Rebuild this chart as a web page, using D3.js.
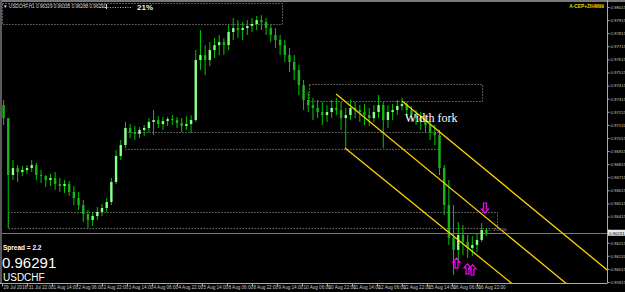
<!DOCTYPE html>
<html>
<head>
<meta charset="utf-8">
<script src="https://cdn.jsdelivr.net/npm/d3@7"></script>
<style>
  body { margin: 0; background: #000; overflow: hidden; }
  svg { display: block; }
</style>
</head>
<body>
<script>
// USDCHF H1 - every candle here stands for 3 hourly bars
const firstOpen = 0.97266;
const closes = [
  0.97167, 0.96732, 0.96785, 0.96755, 0.96770, 0.96785, 0.96808, 0.96732, 0.96724, 0.96694,
  0.96709, 0.96663, 0.96648, 0.96663, 0.96602, 0.96556, 0.96503, 0.96434, 0.96389, 0.96419,
  0.96450, 0.96480, 0.96526, 0.96679, 0.96877, 0.96961, 0.97091, 0.97060, 0.97045, 0.97076,
  0.97091, 0.97137, 0.97152, 0.97121, 0.97144, 0.97160, 0.97152, 0.97129, 0.97106, 0.97121,
  0.97152, 0.97610, 0.97648, 0.97610, 0.97686, 0.97724, 0.97747, 0.97724, 0.97824, 0.97854,
  0.97839, 0.97854, 0.97870, 0.97885, 0.97915, 0.97900, 0.97854, 0.97801, 0.97763, 0.97724,
  0.97648, 0.97595, 0.97534, 0.97419, 0.97305, 0.97266, 0.97244, 0.97213, 0.97190, 0.97213,
  0.97244, 0.97228, 0.97167, 0.97190, 0.97244, 0.97228, 0.97213, 0.97190, 0.97167, 0.97213,
  0.97266, 0.97152, 0.97213, 0.97228, 0.97259, 0.97274, 0.97228, 0.97190, 0.97167, 0.97137,
  0.97114, 0.97060, 0.97037, 0.96785, 0.96503, 0.96251, 0.96160, 0.96274, 0.96221, 0.96175,
  0.96198, 0.96236, 0.96312, 0.96291
];
const highs = [
  0.97305, 0.97076, 0.96847, 0.96808, 0.96801, 0.96808, 0.96847, 0.96824, 0.96770, 0.96732,
  0.96740, 0.96755, 0.96709, 0.96694, 0.96686, 0.96648, 0.96602, 0.96541, 0.96465, 0.96450,
  0.96488, 0.96511, 0.96556, 0.96709, 0.96923, 0.96999, 0.97137, 0.97121, 0.97106, 0.97098,
  0.97114, 0.97167, 0.97228, 0.97182, 0.97175, 0.97175, 0.97190, 0.97175, 0.97167, 0.97182,
  0.97190, 0.97686, 0.97839, 0.97724, 0.97747, 0.97778, 0.97801, 0.97778, 0.97877, 0.97931,
  0.97915, 0.97900, 0.97915, 0.97931, 0.97946, 0.97953, 0.97931, 0.97877, 0.97854, 0.97801,
  0.97763, 0.97702, 0.97648, 0.97572, 0.97457, 0.97366, 0.97320, 0.97305, 0.97289, 0.97266,
  0.97305, 0.97320, 0.97289, 0.97244, 0.97305, 0.97289, 0.97266, 0.97274, 0.97244, 0.97266,
  0.97343, 0.97289, 0.97266, 0.97274, 0.97305, 0.97320, 0.97289, 0.97259, 0.97228, 0.97213,
  0.97190, 0.97137, 0.97114, 0.97076, 0.96808, 0.96694, 0.96503, 0.96373, 0.96350, 0.96274,
  0.96266, 0.96282, 0.96366, 0.96327
];
const lows = [
  0.97114, 0.96327, 0.96694, 0.96679, 0.96724, 0.96740, 0.96755, 0.96694, 0.96671, 0.96640,
  0.96648, 0.96618, 0.96602, 0.96595, 0.96572, 0.96503, 0.96465, 0.96373, 0.96327, 0.96343,
  0.96389, 0.96419, 0.96450, 0.96503, 0.96663, 0.96847, 0.96938, 0.97015, 0.96999, 0.97015,
  0.97030, 0.97060, 0.97037, 0.97091, 0.97076, 0.97106, 0.97114, 0.97091, 0.97060, 0.97076,
  0.97053, 0.97137, 0.97534, 0.97495, 0.97564, 0.97625, 0.97648, 0.97648, 0.97686, 0.97763,
  0.97778, 0.97763, 0.97801, 0.97824, 0.97839, 0.97839, 0.97801, 0.97747, 0.97702, 0.97648,
  0.97595, 0.97518, 0.97457, 0.97343, 0.97228, 0.97213, 0.97152, 0.97167, 0.97114, 0.97137,
  0.97167, 0.97190, 0.97076, 0.96938, 0.97152, 0.97167, 0.97137, 0.97114, 0.97106, 0.97137,
  0.97167, 0.96938, 0.97091, 0.97152, 0.97190, 0.97228, 0.97167, 0.97137, 0.97114, 0.97076,
  0.97060, 0.96999, 0.96961, 0.96732, 0.96427, 0.96198, 0.95969, 0.96068, 0.96121, 0.96098,
  0.96114, 0.96144, 0.96221, 0.96266
];
const timeLabels = [
  '29 Jul 2016', '31 Jul 22:00', '1 Aug 14:00', '2 Aug 06:00', '2 Aug 22:00',
  '3 Aug 14:00', '4 Aug 06:00', '4 Aug 22:00', '5 Aug 14:00', '8 Aug 06:00',
  '8 Aug 22:00', '9 Aug 14:00', '10 Aug 06:00', '10 Aug 22:00', '11 Aug 14:00',
  '12 Aug 06:00', '12 Aug 22:00', '15 Aug 14:00', '16 Aug 06:00', '16 Aug 22:00'
];
const priceTicks = [
  0.98015, 0.97915, 0.97815, 0.97715, 0.97615, 0.97515, 0.97415, 0.97315, 0.97215, 0.97115, 0.97015,
  0.96915, 0.96815, 0.96715, 0.96615, 0.96515, 0.96415, 0.96315, 0.96215, 0.96115, 0.96015, 0.95915
];
const lastPrice = 0.96291;
// pitchfork prongs: [bar, price] start and a second point on the ray
const forkStarts = [[256, 0.97297], [213.8, 0.97350], [219.5, 0.96938]];
const forkPoints = [[325.1, 0.96618], [318.7, 0.96320], [267.5, 0.96473]];
// dotted level boxes: bar from, bar to, price top, price bottom
const boxFrom = [0, 196.5, 78.7, 3.8];
const boxTo = [179.2, 307.2, 280, 316.8];
const boxTop = [0.98045, 0.97427, 0.97060, 0.96450];
const boxBottom = [0.97885, 0.97297, 0.96931, 0.96327];
// arrows: bar, price at tip
const downArrows = [[309.1, 0.96442]];
const upArrows = [[290.9, 0.96098], [297.9, 0.96053], [301.1, 0.96045]];

const w = 625;
const h = 292;
const plotRight = 607;
const plotBottom = 283;

const svg = d3.select('body')
              .append('svg')
              .attr('width', w)
              .attr('height', h)
              .style('background', '#000');

const xScale = d3.scaleLinear()
                 .domain([0, 387.2])
                 .range([2, plotRight]);

const yScale = d3.scaleLinear()
                 .domain([0.95915, 0.98015])
                 .range([282, 7]);

svg.append('clipPath')
   .attr('id', 'plot')
   .append('rect')
   .attr('x', 0).attr('y', 0)
   .attr('width', plotRight).attr('height', plotBottom);

const plot = svg.append('g').attr('clip-path', 'url(#plot)');

// window frame
svg.append('rect').attr('x', 0).attr('y', 0).attr('width', w).attr('height', 2).attr('fill', '#7a7a7a');
svg.append('rect').attr('x', 0).attr('y', 0).attr('width', 2).attr('height', plotBottom).attr('fill', '#5a5a5a');

// dotted boxes
const boxes = boxFrom.map((f, i) => ({ f: f, t: boxTo[i], top: boxTop[i], bot: boxBottom[i] }));
plot.selectAll('rect.box')
    .data(boxes)
    .enter()
    .append('rect')
    .attr('class', 'box')
    .attr('x', d => xScale(d.f) + 0.5)
    .attr('y', d => Math.round(yScale(d.top)) + 0.5)
    .attr('width', d => xScale(d.t) - xScale(d.f))
    .attr('height', d => yScale(d.bot) - yScale(d.top))
    .attr('fill', 'none')
    .attr('stroke', '#b0b0b0')
    .attr('stroke-dasharray', '1,2');

// bid line
plot.append('line')
    .attr('x1', 0).attr('x2', plotRight)
    .attr('y1', Math.round(yScale(lastPrice)) + 0.5)
    .attr('y2', Math.round(yScale(lastPrice)) + 0.5)
    .attr('stroke', '#777');

// candles
const candles = closes.map((c, k) => ({
  bar: 3 * k + 1,
  o: k === 0 ? firstOpen : closes[k - 1],
  c: c, hi: highs[k], lo: lows[k]
}));

plot.selectAll('line.wick')
    .data(candles)
    .enter()
    .append('line')
    .attr('class', 'wick')
    .attr('x1', d => xScale(d.bar)).attr('x2', d => xScale(d.bar))
    .attr('y1', d => yScale(d.hi)).attr('y2', d => yScale(d.lo))
    .attr('stroke', '#00c800')
    .attr('stroke-width', 1);

plot.selectAll('rect.body')
    .data(candles)
    .enter()
    .append('rect')
    .attr('class', 'body')
    .attr('x', d => xScale(d.bar) - 1.2)
    .attr('width', 2.4)
    .attr('y', d => yScale(Math.max(d.o, d.c)))
    .attr('height', d => Math.max(1, Math.abs(yScale(d.o) - yScale(d.c))))
    .attr('fill', d => d.c >= d.o ? '#8cff8c' : '#18b418');

// pitchfork
const forkLines = forkStarts.map((s, i) => {
  const p = forkPoints[i];
  const slope = (p[1] - s[1]) / (p[0] - s[0]);
  return { x1: s[0], y1: s[1], x2: 420, y2: s[1] + slope * (420 - s[0]) };
});
plot.selectAll('line.fork')
    .data(forkLines)
    .enter()
    .append('line')
    .attr('class', 'fork')
    .attr('x1', d => xScale(d.x1)).attr('y1', d => yScale(d.y1))
    .attr('x2', d => xScale(d.x2)).attr('y2', d => yScale(d.y2))
    .attr('stroke', '#ffd200')
    .attr('stroke-width', 1.3);

plot.append('text')
    .attr('x', 405).attr('y', 122)
    .attr('fill', '#fff')
    .style('font-family', '"Liberation Serif", serif')
    .style('font-size', '12px')
    .text('Width fork');

// arrows
const upPath = 'M0,0 L3.5,4 L1.5,4 L1.5,10 L-1.5,10 L-1.5,4 L-3.5,4 Z';
const downPath = 'M0,0 L3.5,-4 L1.5,-4 L1.5,-10 L-1.5,-10 L-1.5,-4 L-3.5,-4 Z';
plot.selectAll('path.up')
    .data(upArrows)
    .enter()
    .append('path')
    .attr('class', 'up')
    .attr('d', upPath)
    .attr('transform', d => 'translate(' + xScale(d[0]) + ',' + yScale(d[1]) + ')')
    .attr('fill', 'none').attr('stroke', '#ff00ff').attr('stroke-width', 1.2);
plot.selectAll('path.down')
    .data(downArrows)
    .enter()
    .append('path')
    .attr('class', 'down')
    .attr('d', downPath)
    .attr('transform', d => 'translate(' + xScale(d[0]) + ',' + yScale(d[1]) + ')')
    .attr('fill', 'none').attr('stroke', '#ff00ff').attr('stroke-width', 1.2);

// axes
const yAxis = d3.axisRight(yScale)
                .tickValues(priceTicks)
                .tickSize(2)
                .tickFormat(d3.format('.5f'));
const yG = svg.append('g')
              .attr('transform', 'translate(' + (plotRight + 0.5) + ',0)')
              .call(yAxis);
yG.select('.domain').attr('stroke', '#aaa').attr('d', 'M0,0V' + plotBottom);
yG.selectAll('line').attr('stroke', '#aaa');
yG.selectAll('text').attr('fill', '#c8c8c8').attr('x', 3).style('font-size', '4.3px').style('font-family', 'Arial, sans-serif');
// the tick that sits under the price tag is hidden like in the terminal
yG.selectAll('.tick').filter(d => Math.abs(yScale(d) - yScale(lastPrice)) < 5).select('text').remove();

const xAxis = d3.axisBottom(xScale)
                .tickValues(timeLabels.map((t, i) => i * 16))
                .tickSize(3)
                .tickFormat((d, i) => timeLabels[i]);
const xG = svg.append('g')
              .attr('transform', 'translate(0,' + (plotBottom + 0.5) + ')')
              .call(xAxis);
xG.select('.domain').attr('stroke', '#aaa').attr('d', 'M0,0H' + (plotRight + 0.5));
xG.selectAll('line').attr('stroke', '#aaa');
xG.selectAll('text').attr('fill', '#c8c8c8').attr('text-anchor', 'start').attr('x', 1).attr('y', 2)
  .style('font-size', '4.6px').style('font-family', 'Arial, sans-serif');

// current price tag
const tagY = yScale(lastPrice);
svg.append('rect').attr('x', plotRight + 1).attr('y', tagY - 3).attr('width', 17).attr('height', 6).attr('fill', '#e8e8e8');
svg.append('text').attr('x', plotRight + 2).attr('y', tagY + 1.8).attr('fill', '#000')
   .style('font-size', '4.3px').style('font-family', 'Arial, sans-serif').text(d3.format('.5f')(lastPrice));

// header texts
svg.append('text').attr('x', 3).attr('y', 8).attr('fill', '#ddd')
   .style('font-size', '4.6px').style('font-family', 'Arial, sans-serif')
   .text('\u25BC USDCHF,H1  0.96329 0.96335 0.96288 0.96291');
svg.append('line').attr('x1', 100).attr('x2', 132).attr('y1', 7.5).attr('y2', 7.5)
   .attr('stroke', '#bbb').attr('stroke-dasharray', '1,1.5');
svg.append('line').attr('x1', 106.5).attr('x2', 106.5).attr('y1', 4).attr('y2', 9).attr('stroke', '#ccc');
svg.append('text').attr('x', 137).attr('y', 9.5).attr('fill', '#eee')
   .style('font-size', '8px').style('font-family', 'Arial, sans-serif').style('font-weight', 'bold')
   .text('21%');
svg.append('text').attr('x', 604).attr('y', 8).attr('text-anchor', 'end').attr('fill', '#e6d800')
   .style('font-size', '4.8px').style('font-family', 'Arial, sans-serif').style('font-weight', 'bold')
   .text('A-CEP+ZIHM99');
svg.append('text').attr('x', 488).attr('y', 231).attr('fill', '#aaa')
   .style('font-size', '4px').style('font-family', 'Arial, sans-serif')
   .text('\u2190 1:07:56');

// bottom-left info
svg.append('text').attr('x', 3).attr('y', 250).attr('fill', '#fff')
   .style('font-size', '6.5px').style('font-family', 'Arial, sans-serif').style('font-weight', 'bold')
   .text('Spread = 2.2');
svg.append('text').attr('x', 2).attr('y', 268).attr('fill', '#fff')
   .style('font-size', '15px').style('font-family', '"Liberation Sans", Arial, sans-serif')
   .text(d3.format('.5f')(lastPrice));
svg.append('text').attr('x', 3).attr('y', 281).attr('fill', '#fff')
   .style('font-size', '10px').style('font-family', '"Liberation Sans", Arial, sans-serif')
   .text('USDCHF');
</script>
</body>
</html>
